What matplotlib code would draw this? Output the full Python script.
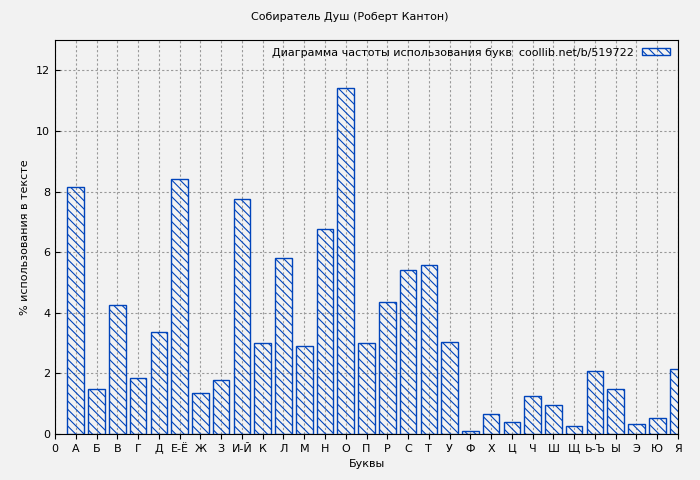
import matplotlib
matplotlib.use("Agg")
import matplotlib.pyplot as plt

letters = ["А","Б","В","Г","Д","Е-Ё","Ж","З","И-Й","К","Л","М","Н","О","П","Р","С","Т","У","Ф","Х","Ц","Ч","Ш","Щ","Ь-Ъ","Ы","Э","Ю","Я"]
values = [8.16,1.47,4.27,1.84,3.38,8.43,1.34,1.77,7.74,2.99,5.82,2.92,6.75,11.43,2.99,
          4.34,5.40,5.59,3.05,0.09,0.65,0.38,1.27,0.95,0.25,2.07,1.47,0.32,0.52,2.13]
tick_labels = ["0"] + letters

plt.rcParams['font.family'] = ['DejaVu Sans']
plt.rcParams['hatch.color'] = '#0044bb'
plt.rcParams['hatch.linewidth'] = 0.8
fig = plt.figure(figsize=(7, 4.8), dpi=100, facecolor='#f2f2f2')
ax = fig.add_axes([0.0786, 0.0958, 0.89, 0.8209], facecolor='#f2f2f2')
x = list(range(1, len(letters) + 1))
ax.bar(x, values, width=0.8, facecolor='none', edgecolor='#0044bb', hatch='\\\\\\\\', linewidth=1,
       label='Диаграмма частоты использования букв  coollib.net/b/519722', zorder=3)
ax.set_xlim(0, 30)
ax.set_ylim(0, 13)
ax.set_xticks(range(0, 31))
ax.set_xticklabels(tick_labels, fontsize=8)
ax.set_yticks(range(0, 13, 2))
ax.tick_params(labelsize=8, direction='in')
ax.tick_params(axis='x', direction='out')
ax.grid(True, linestyle=(0, (2, 2)), color='#999999', linewidth=0.8, zorder=0)
ax.set_xlabel('Буквы', fontsize=8)
ax.set_ylabel('% использования в тексте', fontsize=8)
fig.suptitle('Собиратель Душ (Роберт Кантон)', fontsize=8, y=0.975)
leg = ax.legend(loc='upper right', fontsize=8, frameon=False, markerfirst=False,
                handlelength=2.5, handleheight=0.6, borderaxespad=0.3)
fig.savefig('out.png', dpi=100, facecolor=fig.get_facecolor())
